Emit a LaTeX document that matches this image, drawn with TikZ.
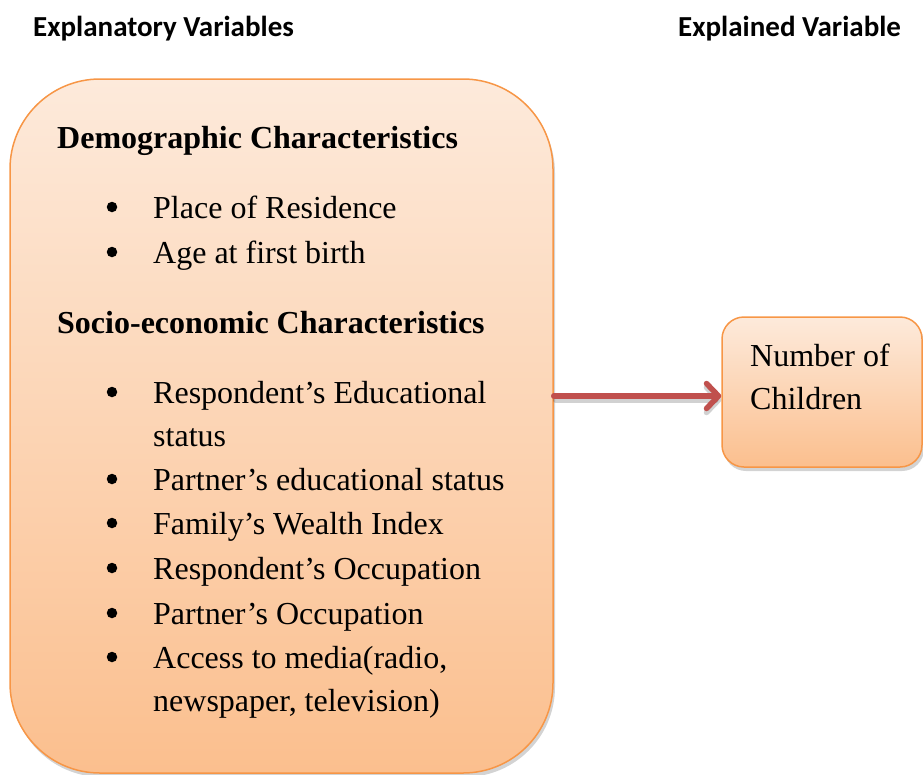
\documentclass[tikz,border=0pt]{standalone}
\usepackage{fontspec}
\setmainfont{Liberation Serif}
\newfontfamily\calib{Carlito}
\usetikzlibrary{arrows.meta,shadows,shapes.misc}
\definecolor{boxtop}{RGB}{253,234,219}
\definecolor{boxbot}{RGB}{251,191,142}
\definecolor{boxline}{RGB}{247,150,70}
\definecolor{arrowred}{RGB}{192,80,77}
\tikzset{
  varbox/.style={draw=boxline, line width=1.5pt, top color=boxtop, bottom color=boxbot,
    inner sep=0pt, drop shadow={shadow xshift=2pt, shadow yshift=-4pt, opacity=0.35}},
  txt/.style={anchor=base west, inner sep=0pt, font=\fontsize{32}{38}\selectfont},
  hdr/.style={anchor=base west, inner sep=0pt, font=\fontsize{32}{38}\selectfont\bfseries},
  bul/.style={circle, fill=black, inner sep=0pt, minimum size=10.5pt},
  toplabel/.style={anchor=base west, inner sep=0pt, font=\calib\fontsize{29}{34}\selectfont\bfseries},
  link/.style={draw=arrowred, line width=5.5pt, line cap=round,
    -{Straight Barb[length=12pt,width=25pt,round]}}
}
\begin{document}
\begin{tikzpicture}[x=1pt,y=-1pt]
\useasboundingbox (0,0) rectangle (923,774);
\node[varbox, rounded corners=90pt, minimum width=543pt, minimum height=694pt] (big) at (281.5,426) {};
\node[varbox, rounded corners=22pt, minimum width=200pt, minimum height=150pt] (small) at (822,392) {};
\draw[link, opacity=0.18, draw=black] ([xshift=2pt,yshift=-4pt]big.east |- 0,396) -- ([xshift=0pt,yshift=-4pt]small.west |- 0,396);
\draw[link] (big.east |- 0,396) coordinate (s) -- (small.west |- s);

\node[toplabel] (l1) at (33,36) {Explanatory Variables};
\node[toplabel] (l2) at (678,36) {Explained Variable};

\node[hdr] (h1) at (57,148) {Demographic Characteristics};
\node[bul] (b1) at (112,207) {};
\node[txt] (t1) at (153,218) {Place of Residence};
\node[bul] (b2) at (112,252) {};
\node[txt] (t2) at (153,263) {Age at first birth};
\node[hdr] (h2) at (57,333) {Socio-economic Characteristics};
\node[bul] (b3) at (112,392) {};
\node[txt] (t3) at (153,403) {Respondent’s Educational};
\node[txt] (t3b) at (153,446) {status};
\node[bul] (b4) at (112,479) {};
\node[txt] (t4) at (153,490) {Partner’s educational status};
\node[bul] (b5) at (112,523) {};
\node[txt] (t5) at (153,534) {Family’s Wealth Index};
\node[bul] (b6) at (112,568) {};
\node[txt] (t6) at (153,579) {Respondent’s Occupation};
\node[bul] (b7) at (112,613) {};
\node[txt] (t7) at (153,624) {Partner’s Occupation};
\node[bul] (b8) at (112,657) {};
\node[txt] (t8) at (153,668) {Access to media(radio,};
\node[txt] (t8b) at (153,711) {newspaper, television)};

\node[txt] (n1) at (750,366) {Number of};
\node[txt] (n2) at (750,409) {Children};
\end{tikzpicture}
\end{document}
